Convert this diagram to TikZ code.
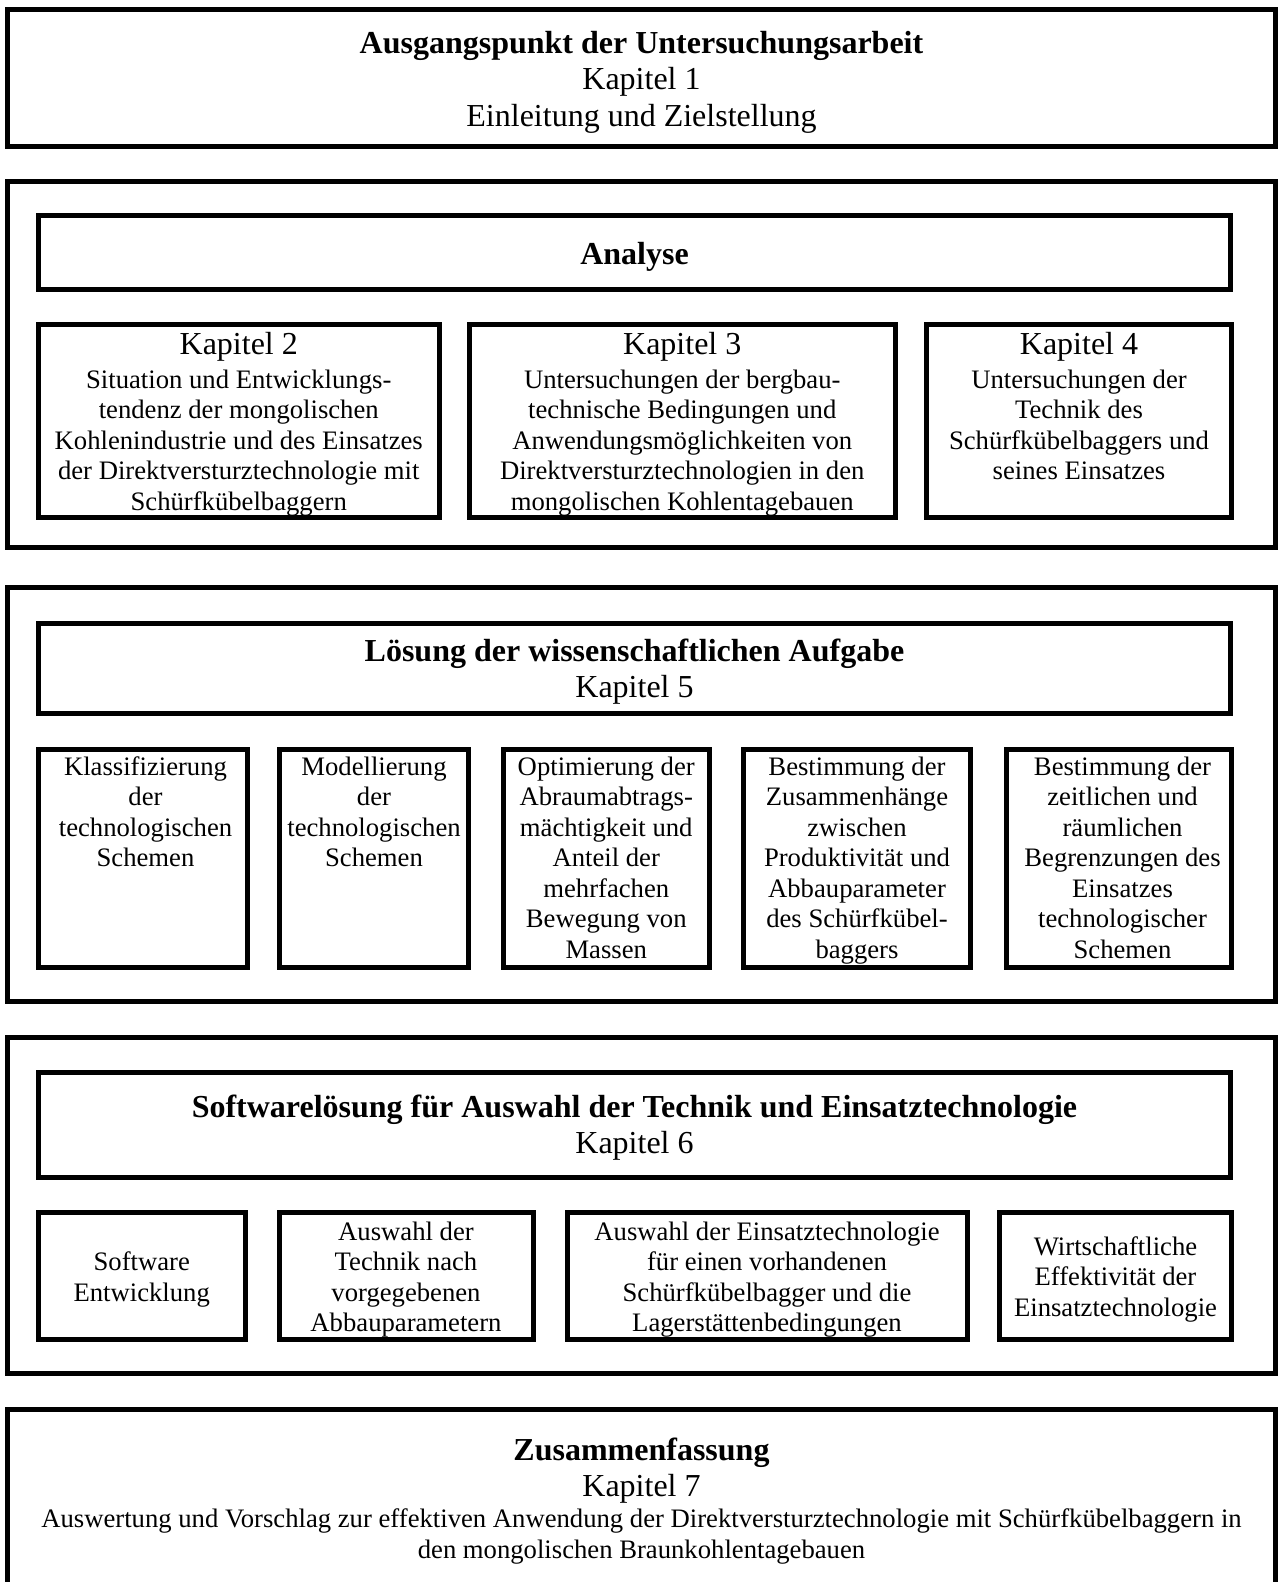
\documentclass[tikz,border=0pt]{standalone}
\usepackage{fontspec}
\setmainfont{Liberation Serif}
\newcommand\mkbox[5]{%
  \pgfmathsetmacro\myBW{#4-#2}\pgfmathsetmacro\myBH{#5-#3}%
  \node[box, minimum width=\myBW pt, minimum height=\myBH pt] (#1) at ({(#2+#4)/2},{(#3+#5)/2}) {};}
\newcommand\mylines[1]{\begin{tabular}[t]{@{}c@{}}#1\end{tabular}}
\tikzset{
  box/.style={draw, line width=5pt, inner sep=0pt, outer sep=0pt},
  body/.style={anchor=base, inner sep=0pt, font=\fontsize{26.67}{30.5}\selectfont},
  head/.style={anchor=base, inner sep=0pt, font=\fontsize{32}{36.5}\selectfont},
}
\begin{document}
\begin{tikzpicture}[x=1pt,y=-1pt]
\useasboundingbox (0,0) rectangle (1278,1582);
% ---------- section 1
\mkbox{s1}{7.5}{9.5}{1275.5}{146}
\node[head] (t1) at (641.5,53) {\mylines{\bfseries Ausgangspunkt der Untersuchungsarbeit\\Kapitel 1\\Einleitung und Zielstellung}};
% ---------- section 2
\mkbox{s2}{7.5}{181.5}{1275.5}{547.5}
\mkbox{ana}{38.5}{215}{1230.5}{289}
\node[head, font=\fontsize{32}{36.5}\selectfont\bfseries] (tana) at (634.5,264) {Analyse};
\mkbox{k2}{38.5}{324.5}{439}{517.5}
\mkbox{k3}{469.5}{324.5}{895}{517.5}
\mkbox{k4}{926.5}{324.5}{1231.5}{517.5}
\node[head] (hk2) at (238.75,354) {Kapitel 2};
\node[head] (hk3) at (682.25,354) {Kapitel 3};
\node[head] (hk4) at (1079,354) {Kapitel 4};
\node[body] (bk2) at (238.75,388) {\mylines{Situation und Entwicklungs-\\tendenz der mongolischen\\Kohlenindustrie und des Einsatzes\\der Direktversturztechnologie mit\\Schürfkübelbaggern}};
\node[body] (bk3) at (682.25,388) {\mylines{Untersuchungen der bergbau-\\technische Bedingungen und\\Anwendungsmöglichkeiten von\\Direktversturztechnologien in den\\mongolischen Kohlentagebauen}};
\node[body] (bk4) at (1079,388) {\mylines{Untersuchungen der\\Technik des\\Schürfkübelbaggers und\\seines Einsatzes}};
% ---------- section 3
\mkbox{s3}{7.5}{587.5}{1275.5}{1001.5}
\mkbox{los}{38.5}{623}{1230.5}{713.5}
\node[head] (tlos) at (634.5,661) {\mylines{\bfseries Lösung der wissenschaftlichen Aufgabe\\Kapitel 5}};
\mkbox{c1}{38.5}{749}{247}{967.5}
\mkbox{c2}{279}{749}{468}{967.5}
\mkbox{c3}{503}{749}{709.5}{967.5}
\mkbox{c4}{743}{749}{970}{967.5}
\mkbox{c5}{1006.5}{749}{1231}{967.5}
\node[body] (tc1) at (145.5,775) {\mylines{Klassifizierung\\der\\technologischen\\Schemen}};
\node[body] (tc2) at (374,775) {\mylines{Modellierung\\der\\technologischen\\Schemen}};
\node[body] (tc3) at (606.25,775) {\mylines{Optimierung der\\Abraumabtrags-\\mächtigkeit und\\Anteil der\\mehrfachen\\Bewegung von\\Massen}};
\node[body] (tc4) at (857,775) {\mylines{Bestimmung der\\Zusammenhänge\\zwischen\\Produktivität und\\Abbauparameter\\des Schürfkübel-\\baggers}};
\node[body] (tc5) at (1122.5,775) {\mylines{Bestimmung der\\zeitlichen und\\räumlichen\\Begrenzungen des\\Einsatzes\\technologischer\\Schemen}};
% ---------- section 4
\mkbox{s4}{7.5}{1037.5}{1275.5}{1373.5}
\mkbox{sw}{38.5}{1072.5}{1230.5}{1177.5}
\node[head] (tsw) at (634.5,1117) {\mylines{\bfseries Softwarelösung für Auswahl der Technik und Einsatztechnologie\\Kapitel 6}};
\mkbox{d1}{38.5}{1212.5}{245}{1339}
\mkbox{d2}{279}{1212.5}{533}{1339}
\mkbox{d3}{567.5}{1212.5}{967}{1339}
\mkbox{d4}{999.5}{1212.5}{1231}{1339}
\node[body] (td1) at (141.75,1270.5) {\mylines{Software\\Entwicklung}};
\node[body] (td2) at (406,1240) {\mylines{Auswahl der\\Technik nach\\vorgegebenen\\Abbauparametern}};
\node[body] (td3) at (767,1240) {\mylines{Auswahl der Einsatztechnologie\\für einen vorhandenen\\Schürfkübelbagger und die\\Lagerstättenbedingungen}};
\node[body] (td4) at (1115.5,1255) {\mylines{Wirtschaftliche\\Effektivität der\\Einsatztechnologie}};
% ---------- section 5
\mkbox{s5}{7.5}{1409}{1275.5}{1640}
\node[head] (ts5) at (641.5,1460) {\mylines{\bfseries Zusammenfassung\\Kapitel 7}};
\node[body] (bs5) at (641.5,1527.5) {\mylines{Auswertung und Vorschlag zur effektiven Anwendung der Direktversturztechnologie mit Schürfkübelbaggern in\\den mongolischen Braunkohlentagebauen}};
\end{tikzpicture}
\end{document}
